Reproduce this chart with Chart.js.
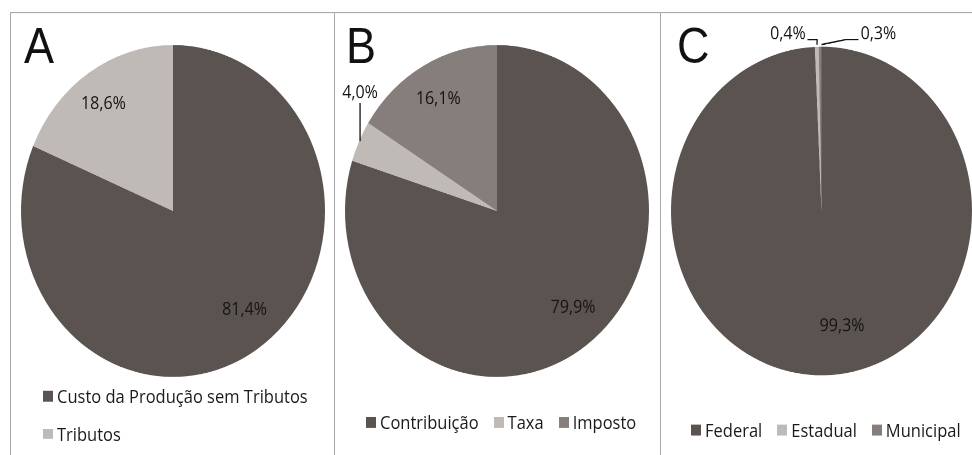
<!DOCTYPE html>
<html>
<head>
<meta charset="utf-8">
<script src="https://cdn.jsdelivr.net/npm/chart.js"></script>
<style>
  html, body { margin: 0; padding: 0; background: #fff; }
  body { width: 972px; height: 455px; overflow: hidden; position: relative; }
  /* the whole figure is drawn slightly taller than wide */
  #page { position: absolute; left: 0; top: 0; width: 972px; height: 417px;
          transform: scaleY(1.0916); transform-origin: 0 0; }
  #page canvas { position: absolute; left: 0; top: 0; }
  .frame-top { position: absolute; left: 10px; right: 0; top: 10.5px; height: 0; border-top: 1.5px solid #a8a8a8; }
  .frame-v { position: absolute; top: 10.5px; bottom: -10px; width: 0; border-left: 1.5px solid #a8a8a8; }
  .tag { position: absolute; font: 45px/45px "Liberation Sans", Arial, sans-serif; color: #111; }
  .legend { position: absolute; display: flex; flex-direction: row; gap: 15px;
            font: 16.5px "Open Sans", sans-serif; color: #1a1a1a; line-height: 20px; }
  .legend.rows { flex-direction: column; gap: 14.5px; }
  .legend .item { display: flex; align-items: center; white-space: nowrap; }
  .legend .box { width: 10px; height: 9.5px; margin-right: 4px; }
</style>
</head>
<body>
<div id="page">
  <div class="frame-top"></div>
  <div class="frame-v" style="left:10px"></div>
  <div class="frame-v" style="left:334px"></div>
  <div class="frame-v" style="left:660px"></div>
  <div class="tag" style="left:24px; top:20px">A</div>
  <div class="tag" style="left:346px; top:20px">B</div>
  <div class="tag" style="left:677px; top:20px">C</div>
  <canvas id="pieA" width="972" height="417"></canvas>
  <canvas id="pieB" width="972" height="417"></canvas>
  <canvas id="pieC" width="972" height="417"></canvas>
  <div class="legend rows" id="legA" style="left:43px; top:353px"></div>
  <div class="legend" id="legB" style="left:366px; top:377px"></div>
  <div class="legend" id="legC" style="left:691px; top:384px"></div>
</div>
<script>
// A: custo de produção x tributos
const labelsA = ['Custo da Produção sem Tributos', 'Tributos'];
const valuesA = [81.4, 18.6];

// B: tributos por espécie
const labelsB = ['Contribuição', 'Taxa', 'Imposto'];
const valuesB = [79.9, 4.0, 16.1];

// C: tributos por esfera de governo
const labelsC = ['Federal', 'Estadual', 'Municipal'];
const valuesC = [99.3, 0.4, 0.3];

const DARK = '#5a5350', LIGHT = '#c0bab7', MID = '#857e7a';

const W = 972, H = 417;

function fmt(v) {
  return v.toFixed(1).replace('.', ',') + '%';
}

// percentage labels: inside the slice, or pulled out with a leader line
const sliceLabels = {
  id: 'sliceLabels',
  afterDatasetsDraw(chart, args, opts) {
    const ctx = chart.ctx;
    const meta = chart.getDatasetMeta(0);
    const values = chart.data.datasets[0].data;
    ctx.save();
    ctx.font = '16px "Open Sans", sans-serif';
    ctx.fillStyle = '#151515';
    ctx.strokeStyle = '#111';
    ctx.lineWidth = 1.3;
    ctx.textBaseline = 'middle';
    meta.data.forEach((arc, i) => {
      const p = arc.getProps(['x', 'y', 'startAngle', 'endAngle', 'outerRadius'], true);
      const mid = (p.startAngle + p.endAngle) / 2;
      const call = (opts.callouts || {})[i];
      if (call) {
        const ex = p.x + Math.cos(mid) * p.outerRadius;
        const ey = p.y + Math.sin(mid) * p.outerRadius;
        ctx.beginPath();
        call.line.forEach((pt, k) => {
          if (k === 0) ctx.moveTo(ex + pt[0], ey + pt[1]);
          else ctx.lineTo(ex + pt[0], ey + pt[1]);
        });
        ctx.stroke();
        ctx.textAlign = call.align;
        ctx.fillText(fmt(values[i]), ex + call.text[0], ey + call.text[1]);
      } else {
        const n = (opts.nudge || {})[i] || [0, 0];
        const r = p.outerRadius * 0.77;
        ctx.textAlign = 'center';
        ctx.fillText(fmt(values[i]), p.x + Math.cos(mid) * r + n[0], p.y + Math.sin(mid) * r + n[1]);
      }
    });
    ctx.restore();
  }
};

function makePie(id, legendId, labels, values, colors, cx, cy, r, labelOpts) {
  const chart = new Chart(document.getElementById(id), {
    type: 'pie',
    data: {
      labels: labels,
      datasets: [{
        data: values,
        backgroundColor: colors,
        borderWidth: 0,
        hoverBorderWidth: 0,
        hoverOffset: 0
      }]
    },
    options: {
      responsive: false,
      animation: false,
      devicePixelRatio: 2,
      events: [],
      layout: {
        padding: { left: cx - r, right: W - cx - r, top: cy - r, bottom: H - cy - r }
      },
      plugins: {
        legend: { display: false },
        tooltip: { enabled: false },
        sliceLabels: labelOpts
      }
    },
    plugins: [sliceLabels]
  });

  // legend built from the chart's own legend items
  const box = document.getElementById(legendId);
  chart.options.plugins.legend.labels.generateLabels(chart).forEach(item => {
    const el = document.createElement('div');
    el.className = 'item';
    el.innerHTML = '<span class="box" style="background:' + item.fillStyle + '"></span><span>' + item.text + '</span>';
    box.appendChild(el);
  });
  return chart;
}

makePie('pieA', 'legA', labelsA, valuesA, [DARK, LIGHT], 173, 193.3, 152,
  { nudge: { 0: [7, -7], 1: [-5, 0] } });

makePie('pieB', 'legB', labelsB, valuesB, [DARK, LIGHT, MID], 497, 193.3, 152,
  {
    nudge: { 0: [7, -6], 2: [-2, 0] },
    callouts: { 1: { line: [[1, 0], [1, -35]], text: [1, -44], align: 'center' } }
  });

makePie('pieC', 'legC', labelsC, valuesC, [DARK, LIGHT, MID], 822, 193.3, 151,
  {
    nudge: { 0: [18, -10] },
    callouts: {
      1: { line: [[0.3, -2], [0.3, -6.7], [-9.3, -6.7]], text: [-11, -11.5], align: 'right' },
      2: { line: [[1.4, -2], [26.4, -6.7], [38.4, -6.7]], text: [40.5, -11.5], align: 'left' }
    }
  });
</script>
</body>
</html>
